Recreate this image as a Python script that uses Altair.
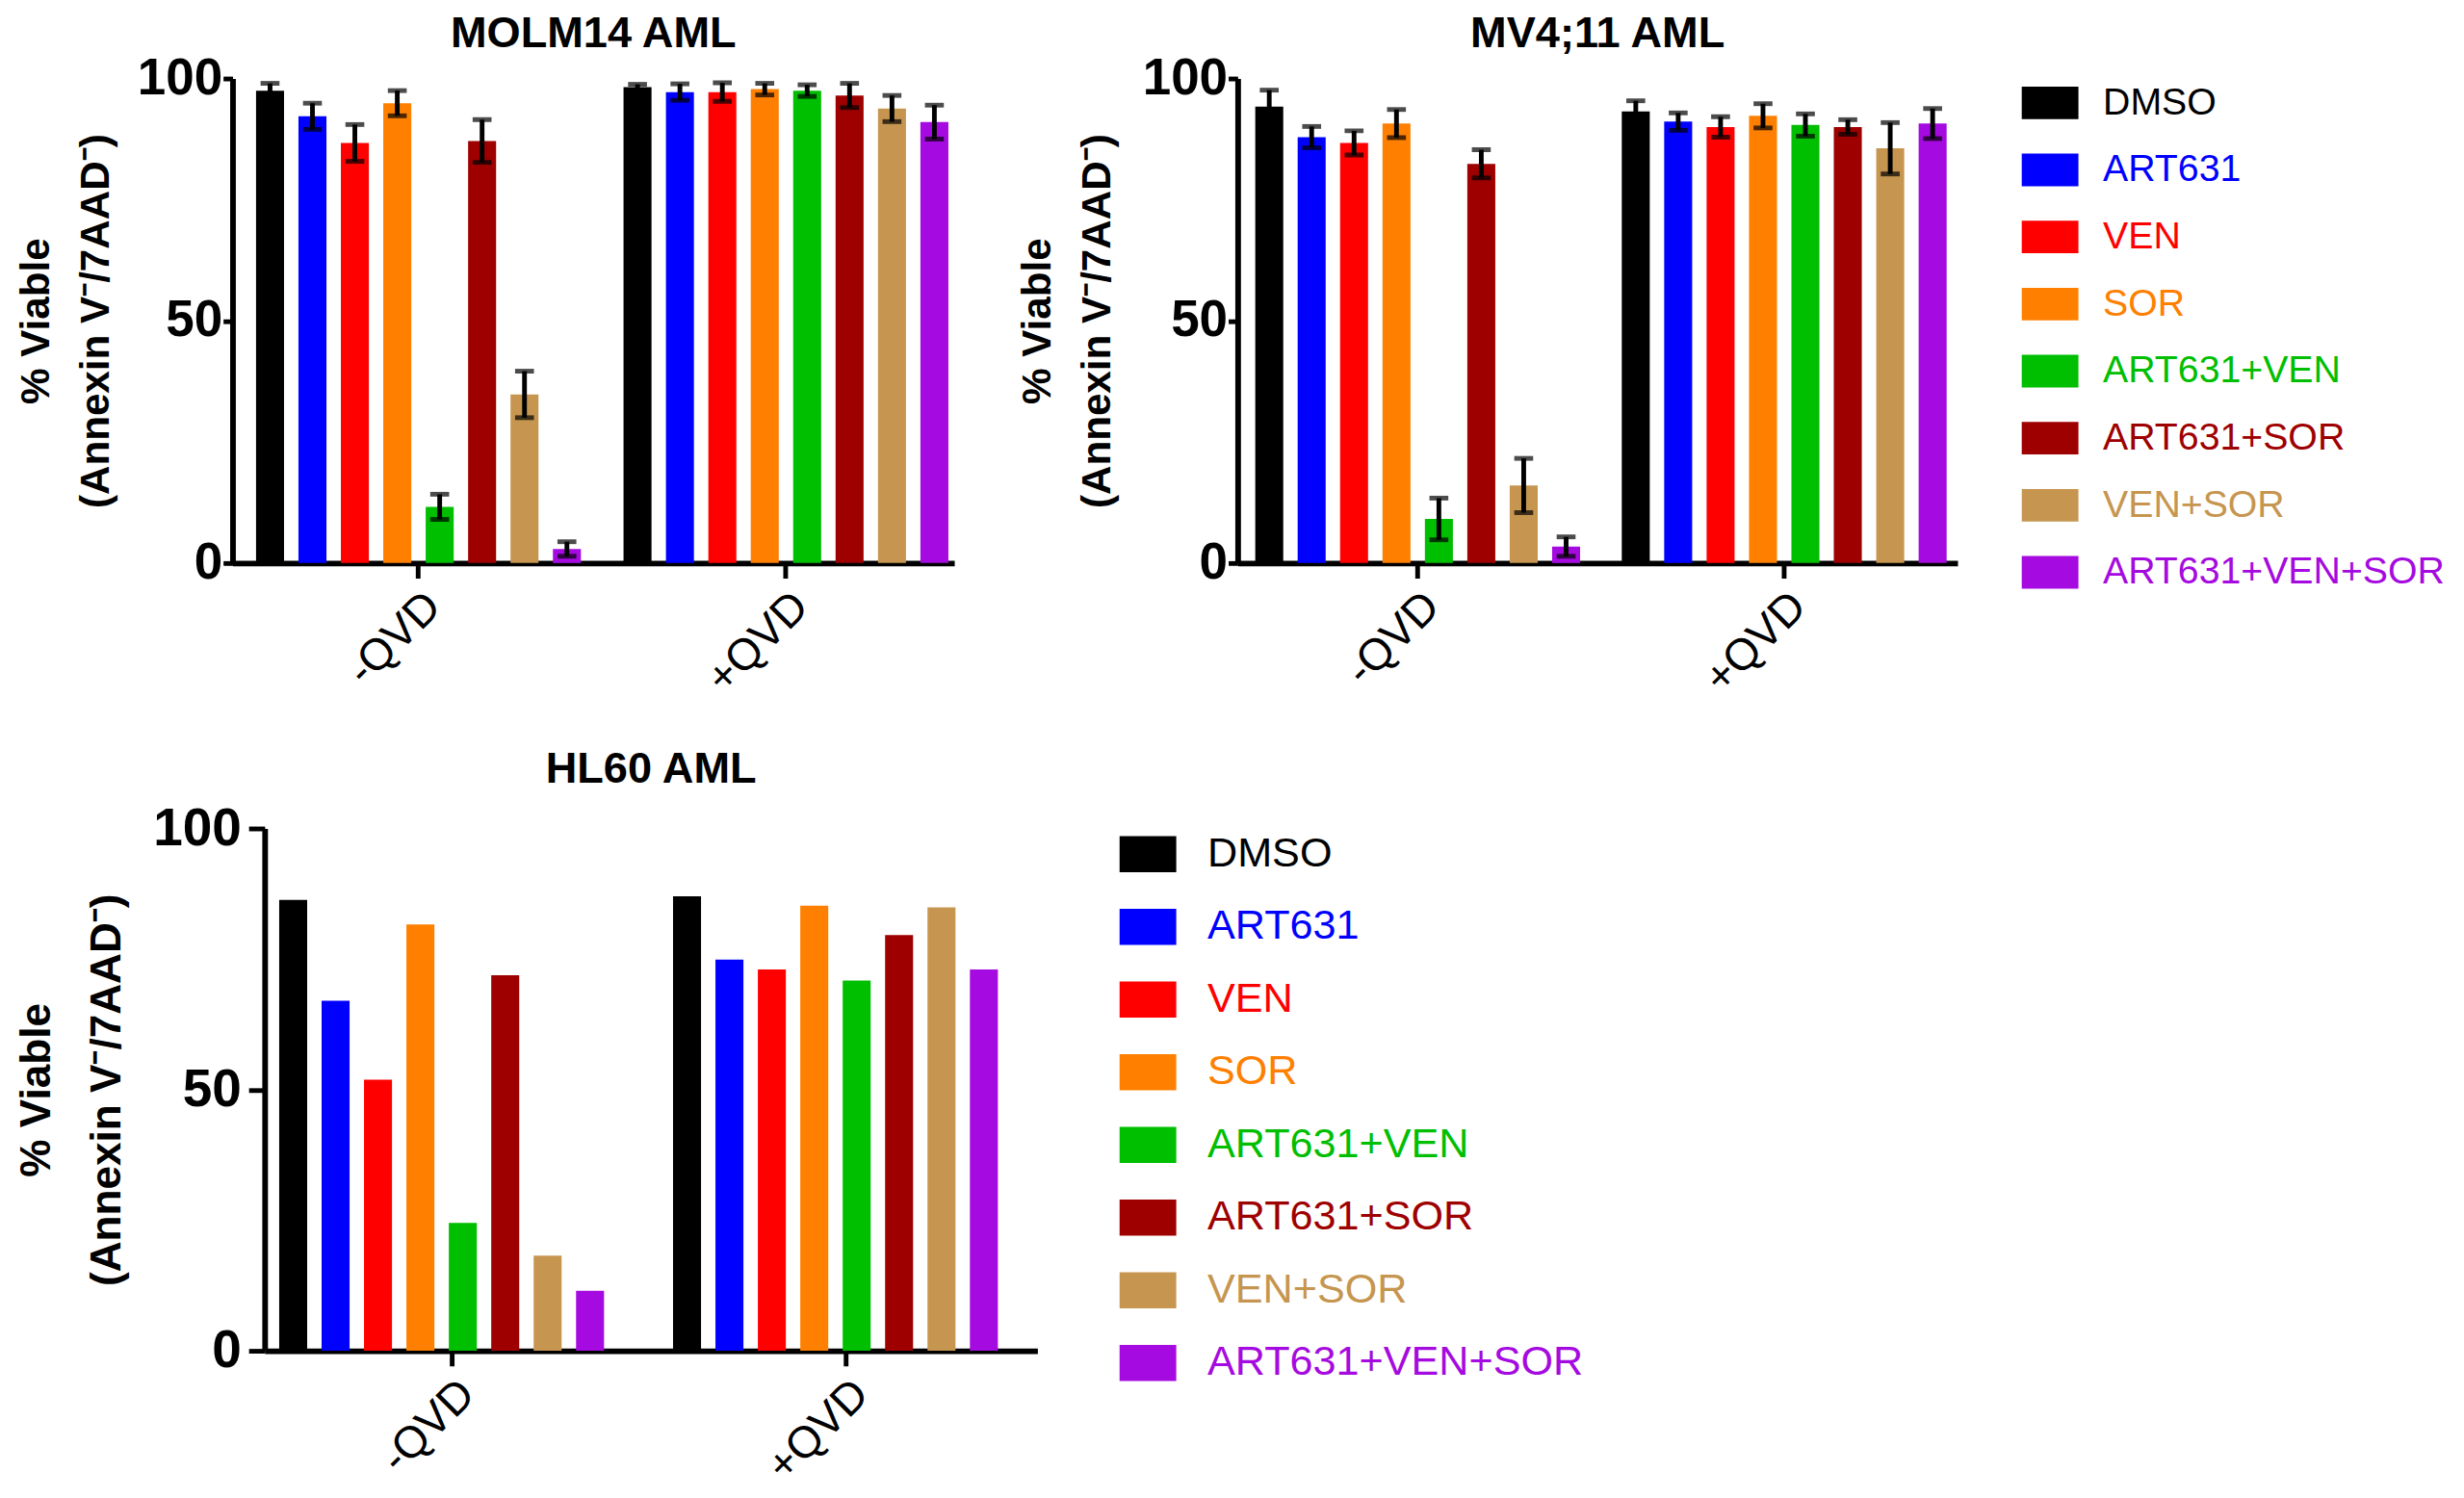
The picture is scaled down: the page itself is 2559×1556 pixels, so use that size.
import altair as alt
import pandas as pd

FONT = "Liberation Sans, Arial, sans-serif"

treatments = ["DMSO", "ART631", "VEN", "SOR", "ART631+VEN", "ART631+SOR", "VEN+SOR", "ART631+VEN+SOR"]
colors = ["#000000", "#0000FF", "#FF0000", "#FF8000", "#00BE00", "#9E0000", "#C69650", "#A50AE0"]
conditions = ["-QVD", "+QVD"]

# MOLM14 AML
molm14_minus = [97.5, 92.2, 86.7, 94.9, 11.6, 87.1, 34.8, 2.9]
molm14_minus_err = [1.5, 2.7, 3.8, 2.6, 2.6, 4.4, 4.8, 1.5]
molm14_plus = [98.2, 97.2, 97.2, 97.8, 97.5, 96.5, 93.8, 91.0]
molm14_plus_err = [0.6, 1.7, 1.9, 1.2, 1.2, 2.5, 2.7, 3.5]

# MV4;11 AML
mv411_minus = [94.2, 87.9, 86.7, 90.7, 9.1, 82.4, 16.0, 3.4]
mv411_minus_err = [3.4, 2.2, 2.5, 2.9, 4.3, 2.9, 5.6, 2.0]
mv411_plus = [93.2, 91.1, 90.0, 92.3, 90.4, 90.0, 85.6, 90.7]
mv411_plus_err = [2.2, 1.8, 2.1, 2.5, 2.3, 1.5, 5.3, 3.1]

# HL60 AML
hl60_minus = [86.3, 67.0, 51.9, 81.6, 24.5, 71.9, 18.2, 11.5]
hl60_plus = [87.0, 74.9, 73.0, 85.2, 70.9, 79.6, 84.9, 73.0]

y_title = ["% Viable", "(Annexin V\u207b/7AAD\u207b)"]
y_ticks = [0, 50, 100]

color_scale = alt.Scale(domain=treatments, range=colors)


def panel_df(minus, plus, minus_err=None, plus_err=None):
    rows = []
    for cond, vals, errs in [("-QVD", minus, minus_err), ("+QVD", plus, plus_err)]:
        for i, t in enumerate(treatments):
            r = {"condition": cond, "treatment": t, "value": vals[i]}
            if errs is not None:
                r["lo"] = vals[i] - errs[i]
                r["hi"] = vals[i] + errs[i]
            rows.append(r)
    return pd.DataFrame(rows)


def panel(title, df, width, height, x_pi, x_po, x_align, off_pi, has_err,
          title_offset, ylab_size, ytick, ylab_pad, ytitle_size, ytitle_pad, ytitle_lh):
    xenc = alt.X(
        "condition:N", sort=conditions,
        scale=alt.Scale(paddingInner=x_pi, paddingOuter=x_po, align=x_align),
        axis=alt.Axis(title=None, labelAngle=-45, labelFontSize=47, labelFont=FONT,
                      labelColor="black", domainWidth=6, domainColor="black",
                      tickWidth=5, tickSize=16, tickColor="black", labelPadding=6),
    )
    xo = alt.XOffset("treatment:N", sort=treatments,
                     scale=alt.Scale(paddingInner=off_pi, paddingOuter=0))
    yaxis = alt.Axis(values=y_ticks, title=y_title, grid=False,
                     labelFontSize=ylab_size, labelFontWeight="bold", labelFont=FONT,
                     labelColor="black", labelPadding=ylab_pad,
                     tickSize=ytick, tickWidth=5, tickColor="black",
                     domainWidth=6, domainColor="black",
                     titleFontSize=ytitle_size, titleFontWeight="bold", titleFont=FONT,
                     titleColor="black", titlePadding=ytitle_pad, titleLineHeight=ytitle_lh)
    yscale = alt.Scale(domain=[0, 100], nice=False)

    def yenc(field):
        return alt.Y(f"{field}:Q", scale=yscale, axis=yaxis)

    bars = alt.Chart(df).mark_bar().encode(
        x=xenc, xOffset=xo, y=yenc("value"),
        color=alt.Color("treatment:N", scale=color_scale, legend=None),
    )
    layers = [bars]
    if has_err:
        rule = alt.Chart(df).mark_rule(color="black", strokeWidth=5).encode(
            x=xenc, xOffset=xo, y=yenc("lo"), y2="hi:Q")
        cap_lo = alt.Chart(df).mark_tick(color="black", thickness=5, size=20,
                                         orient="horizontal").encode(
            x=xenc, xOffset=xo, y=yenc("lo"))
        cap_hi = alt.Chart(df).mark_tick(color="black", thickness=5, size=20,
                                         orient="horizontal").encode(
            x=xenc, xOffset=xo, y=yenc("hi"))
        layers += [rule, cap_lo, cap_hi]
    return alt.layer(*layers).properties(
        width=width, height=height,
        title=alt.TitleParams(title, fontSize=46, font=FONT, fontWeight="bold",
                              color="black", offset=title_offset),
    )


leg_df = pd.DataFrame({"treatment": treatments})


def legend(width, height, pi, po, align, swatch_w, text_x, font_size):
    yenc = alt.Y("treatment:N", sort=treatments, axis=None,
                 scale=alt.Scale(paddingInner=pi, paddingOuter=po, align=align))
    cenc = alt.Color("treatment:N", scale=color_scale, legend=None)
    sw = alt.Chart(leg_df).mark_rect().encode(
        y=yenc, x=alt.value(0), x2=alt.value(swatch_w), color=cenc)
    tx = alt.Chart(leg_df).mark_text(align="left", baseline="middle",
                                     fontSize=font_size, font=FONT).encode(
        y=yenc, x=alt.value(text_x), text="treatment:N", color=cenc)
    return alt.layer(sw, tx).properties(width=width, height=height)


def spacer():
    return alt.Chart(pd.DataFrame({"s": [0]})).mark_point(opacity=0).encode(
        x=alt.value(0), y=alt.value(0)).properties(width=1, height=1)


p1 = panel("MOLM14 AML",
           panel_df(molm14_minus, molm14_plus, molm14_minus_err, molm14_plus_err),
           764, 513, 0.116, 0.04, 0.8, 0.34, True, -4, 54, 10, 1, 43, 21, 64)
p2 = panel("MV4;11 AML",
           panel_df(mv411_minus, mv411_plus, mv411_minus_err, mv411_plus_err),
           762, 513, 0.116, 0.04, 0.6, 0.34, True, -4, 54, 10, 1, 43, 25, 64)
p3 = panel("HL60 AML", panel_df(hl60_minus, hl60_plus),
           818, 553, 0.12, 0.041, 0.45, 0.36, False, 10, 56, 17, 8, 45, 26, 74)

leg2 = legend(455, 560, 0.514, 0.2, 0.3, 60, 86, 40)
leg3 = legend(500, 600, 0.504, 0.15, 0.35, 60, 93, 44)

row1 = alt.hconcat(
    spacer(),
    alt.hconcat(alt.hconcat(p1, p2, spacing=66), leg2, spacing=68),
    spacing=2,
)
row2 = alt.hconcat(spacer(), alt.hconcat(p3, leg3, spacing=87), spacing=2)

chart = alt.vconcat(row1, row2, spacing=50).configure_view(
    stroke=None
).properties(padding={"left": 0, "top": -10, "right": 5, "bottom": 0})

chart.save("out.html", embed_options={"renderer": "svg", "actions": False})
